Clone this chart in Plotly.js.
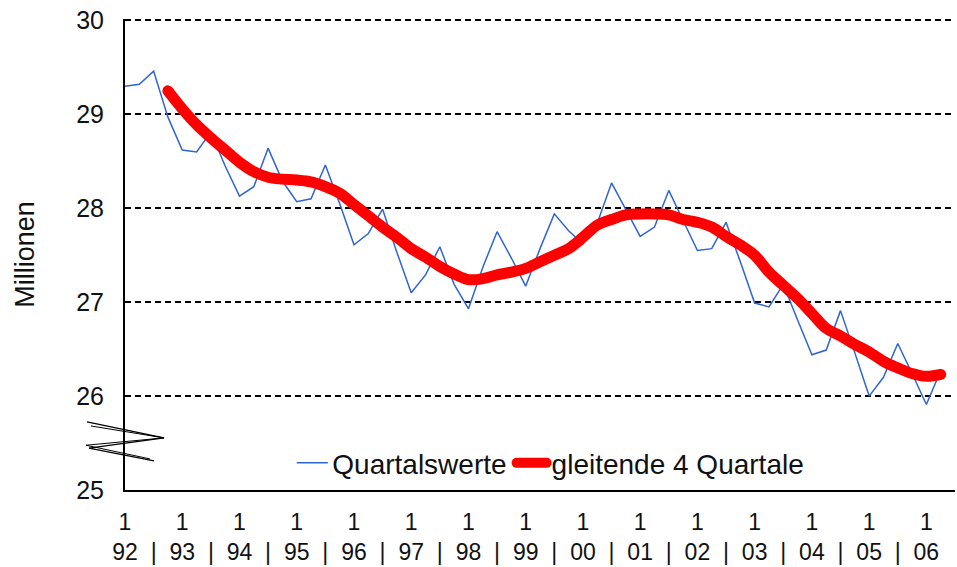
<!DOCTYPE html>
<html>
<head>
<meta charset="utf-8">
<script src="https://cdn.plot.ly/plotly-3.0.1.min.js"></script>
<style>
html,body{margin:0;padding:0;background:#fff;}
#chart{width:957px;height:567px;}
.js-line{stroke-linecap:round;}
</style>
</head>
<body>
<div id="chart"></div>
<script>
// Year labels (two-digit) and quarters
const years = ["92","93","94","95","96","97","98","99","00","01","02","03","04","05","06"];
const quarterNames = ["1","2","3","4"];
// Quarterly values 92Q1 .. 06Q2 (millions)
const quartalswerte = [
  29.30,29.32,29.46,28.97,28.62,28.60,28.81,28.45,28.13,28.23,
  28.64,28.29,28.07,28.10,28.46,28.05,27.61,27.73,27.99,27.53,
  27.10,27.29,27.59,27.19,26.93,27.37,27.75,27.47,27.17,27.57,
  27.94,27.76,27.62,27.84,28.27,27.98,27.70,27.80,28.19,27.87,
  27.55,27.57,27.85,27.43,26.99,26.95,27.19,26.81,26.44,26.49,
  26.91,26.46,26.00,26.20,26.56,26.24,25.91,26.27
];
// Moving average over 4 quarters (starts at 92Q4)
const gleitende = [
  null,null,null,
  29.25,29.06,28.89,28.75,28.62,28.49,28.39,28.33,28.31,28.30,
  28.28,28.23,28.16,28.04,27.92,27.80,27.69,27.57,27.48,27.38,
  27.30,27.24,27.25,27.29,27.32,27.36,27.43,27.50,27.57,27.69,
  27.82,27.88,27.93,27.94,27.94,27.93,27.88,27.85,27.80,27.70,
  27.61,27.50,27.32,27.18,27.04,26.88,26.72,26.64,26.55,26.47,
  26.37,26.30,26.24,26.21,26.23
];
const yTicks = [25,26,27,28,29,30];
const seriesNames = ["Quartalswerte","gleitende 4 Quartale"];

const xIdx = quartalswerte.map((_, i) => i);

// x tick labels: "1" over year at each first quarter, "|" separators mid-year
const tickvals = [], ticktext = [];
years.forEach((y, k) => {
  tickvals.push(k * 4); ticktext.push(quarterNames[0] + "<br>" + y);
  if (k < years.length - 1) { tickvals.push(k * 4 + 2); ticktext.push(" <br>|"); }
});

const fam = "Liberation Sans, Arial, sans-serif";
const font = {family: fam, size: 25, color: "#111"};
const xfont = {family: fam, size: 23, color: "#111"};
const lfont = {family: fam, size: 28, color: "#111"};
const tfont = {family: fam, size: 27, color: "#111"};

const traces = [
  {
    x: xIdx, y: quartalswerte, name: seriesNames[0], type: "scatter", mode: "lines",
    line: {color: "#2f64d2", width: 1.5}
  },
  {
    x: xIdx, y: gleitende, name: seriesNames[1], type: "scatter", mode: "lines",
    line: {color: "#ff0000", width: 11, shape: "spline", smoothing: 1}
  }
];

const layout = {
  width: 957, height: 567,
  margin: {l: 125, r: 2, t: 19, b: 77},
  paper_bgcolor: "#fff", plot_bgcolor: "#fff",
  font: font,
  showlegend: true,
  legend: {
    orientation: "h", x: 0.513, xanchor: "center", y: 0.057, yanchor: "middle",
    font: lfont, bgcolor: "rgba(0,0,0,0)", itemwidth: 30, tracegroupgap: 0
  },
  xaxis: {
    range: [0, 58], tickvals: tickvals, ticktext: ticktext,
    showgrid: false, zeroline: false, ticks: "",
    showline: true, linecolor: "#000", linewidth: 2,
    tickfont: xfont, ticklabelstandoff: 10, fixedrange: true
  },
  yaxis: {
    range: [25, 30.015], tickvals: yTicks, ticks: "",
    showgrid: true, gridcolor: "#000", gridwidth: 2, griddash: "6px,4px",
    zeroline: false, showline: true, linecolor: "#000", linewidth: 2,
    tickfont: font, ticklabelstandoff: 14,
    title: {text: "Millionen", font: tfont, standoff: 34}
  },
  shapes: [
    {type: "path", xref: "paper", yref: "paper",
     path: "M -0.0458 0.1447 L 0.0470 0.1106 L -0.0434 0.0887 L 0.0349 0.0617",
     line: {color: "#000", width: 1.3}},
    {type: "path", xref: "paper", yref: "paper",
     path: "M -0.0410 0.1360 L 0.0470 0.1106 L -0.0470 0.0950 L 0.0300 0.0660",
     line: {color: "#000", width: 1}}
  ]
};

Plotly.newPlot("chart", traces, layout, {displayModeBar: false, staticPlot: true});
</script>
</body>
</html>
